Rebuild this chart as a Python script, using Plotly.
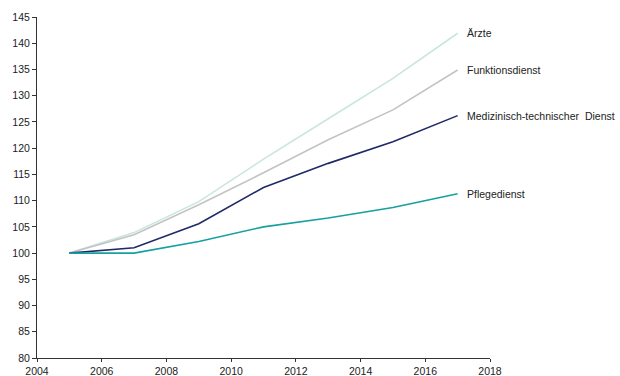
import plotly.graph_objects as go

years = [2005, 2007, 2009, 2011, 2013, 2015, 2017]
aerzte = [100, 103.9, 109.8, 117.9, 125.6, 133.3, 141.9]
funktionsdienst = [100, 103.5, 109.2, 115.3, 121.6, 127.3, 134.9]
med_tech = [100, 101.0, 105.6, 112.5, 117.1, 121.2, 126.2]
pflegedienst = [100, 100.0, 102.2, 105.0, 106.7, 108.7, 111.3]

series = [
    ("Ärzte", aerzte, "#c8e6e1"),
    ("Funktionsdienst", funktionsdienst, "#c3c3c3"),
    ("Medizinisch-technischer  Dienst", med_tech, "#1f2a66"),
    ("Pflegedienst", pflegedienst, "#16a0a0"),
]

fig = go.Figure()
for name, vals, color in series:
    fig.add_trace(go.Scatter(x=years, y=vals, mode="lines", name=name,
                             line=dict(color=color, width=1.6)))
    fig.add_annotation(x=years[-1], y=vals[-1], text=name, showarrow=False,
                       xanchor="left", yanchor="middle", xshift=7, yshift=0,
                       font=dict(family="Liberation Sans, Arial", size=10.5, color="#222222"))

axis_font = dict(family="Liberation Sans, Arial", size=10.5, color="#222222")
fig.update_layout(
    width=620, height=376,
    margin=dict(l=37, r=130, t=17, b=18),
    paper_bgcolor="white", plot_bgcolor="white",
    showlegend=False,
    xaxis=dict(range=[2004, 2018], dtick=2, tick0=2004, showgrid=False, zeroline=False,
               showline=True, linecolor="#333333", linewidth=1, automargin=False,
               ticks="outside", ticklen=3, tickcolor="#333333", tickfont=axis_font),
    yaxis=dict(range=[80, 145], dtick=5, tick0=80, showgrid=False, zeroline=False,
               showline=True, linecolor="#333333", linewidth=1, automargin=False,
               ticks="outside", ticklen=4, tickcolor="#333333", tickfont=axis_font),
)

fig.write_html("out.html")
